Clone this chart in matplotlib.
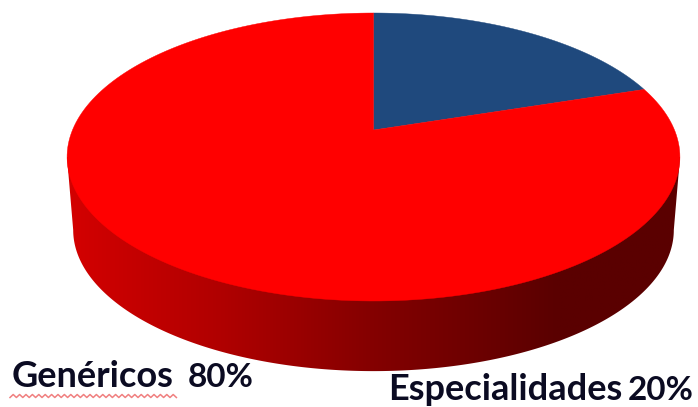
#!/usr/bin/env python3
# -*- coding: utf-8 -*-
import matplotlib
matplotlib.use('Agg')
import matplotlib.pyplot as plt
from matplotlib.colors import LinearSegmentedColormap
from matplotlib.patches import Polygon
import numpy as np

labels = ['Especialidades', 'Genéricos']
shares = [20, 80]
colors = ['#1F497D', '#FF0000']

# pie drawn in pixel coordinates of the picture
CX = 373.5
TIP_Y = 130.0
K = 0.1875     # perspective of the tilted disc
A = -114.56
C = 301.0


def project(theta):
    # angle on the flat disc -> position on the picture
    u = np.cos(theta)
    v = np.sin(theta)
    w = 1 + K * v
    return CX + C * u / w, (A * v + TIP_Y) / w


def wedge(start, stop):
    t = np.linspace(start, stop, 200)
    x, y = project(t)
    return np.r_[CX, x], np.r_[TIP_Y, y]


fig = plt.figure(figsize=(6.98, 4.07), dpi=100)
ax = fig.add_axes([0, 0, 1, 1])
ax.set_xlim(0, 698)
ax.set_ylim(407, 0)
ax.axis('off')

# side wall, bottom ellipse is a bit narrower
widest = np.arcsin(K)
t = np.linspace(np.pi + widest, 2 * np.pi - widest, 300)
bx = CX + 0.98 * (project(t)[0] - CX)
by = 157 + 0.98 * (project(t)[1] - 157) + 73
wall = Polygon(np.c_[np.r_[67, bx, 680], np.r_[157, by, 157]], closed=True,
               fc='none', ec='none', transform=ax.transData)
ax.add_patch(wall)
cmap = LinearSegmentedColormap.from_list('wall', [
    (0.0, '#D40000'), (0.25, '#B00000'), (0.5, '#840000'),
    (0.8, '#5A0000'), (1.0, '#5A0000')])
im = ax.imshow(np.linspace(0, 1, 256).reshape(1, -1), cmap=cmap, aspect='auto',
               extent=(67, 680, 375, 150), zorder=1)
im.set_clip_path(wall)
ax.set_xlim(0, 698)
ax.set_ylim(407, 0)

# top of the pie, clockwise from 12 o'clock
start = np.pi / 2
for share, color in zip(shares, colors):
    stop = start - 2 * np.pi * share / sum(shares)
    x, y = wedge(start, stop)
    ax.fill(x, y, color=color, lw=0.3, zorder=2)
    start = stop

font = dict(family='Lato', fontweight='bold', color='#0B0B22', zorder=3)
ax.text(12, 387, labels[1], ha='left', va='baseline', fontsize=26, **font)
ax.text(254, 387, '%d%%' % shares[1], ha='right', va='baseline', fontsize=24, **font)
ax.text(388, 400, labels[0], ha='left', va='baseline', fontsize=26, **font)
ax.text(694, 400, '%d%%' % shares[0], ha='right', va='baseline', fontsize=24, **font)

# spell check squiggle under the first label
sx = np.arange(10, 179, 3.2)
sy = 396 + 1.5 * (-1.0) ** np.arange(len(sx))
ax.plot(sx, sy, color='#F08080', lw=1.1, zorder=3)

fig.savefig('out.png', dpi=100)
